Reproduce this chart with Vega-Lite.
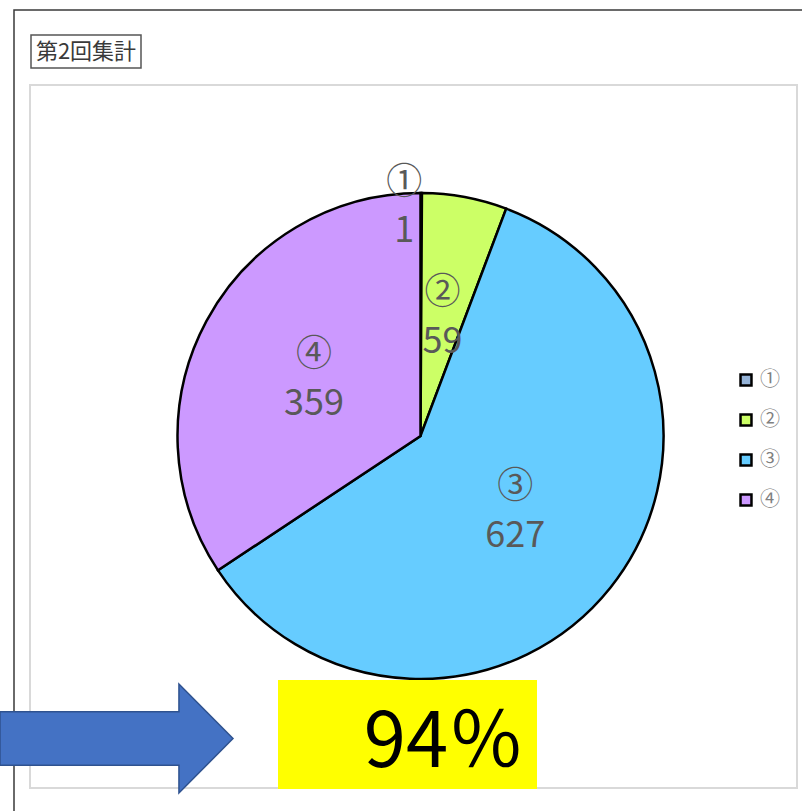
{
  "$schema": "https://vega.github.io/schema/vega-lite/v6.json",
  "width": 802,
  "height": 811,
  "autosize": "none",
  "padding": 0,
  "background": "white",
  "config": {"view": {"stroke": null}},
  "data": {"values": [
    {"cat": "①", "value": 1, "label": "①\n1"},
    {"cat": "②", "value": 59, "label": "②\n59"},
    {"cat": "③", "value": 627, "label": "③\n627"},
    {"cat": "④", "value": 359, "label": "④\n359"}
  ]},
  "layer": [
    {
      "data": {"values": [{}]},
      "mark": {"type": "rect", "x": 14, "x2": 830, "y": 10, "y2": 840, "filled": false, "stroke": "#3a3a3a", "strokeWidth": 1.5},
      "encoding": {}
    },
    {
      "data": {"values": [{}]},
      "mark": {"type": "rect", "x": 30, "x2": 797, "y": 85, "y2": 788, "filled": false, "stroke": "#d9d9d9", "strokeWidth": 2},
      "encoding": {}
    },
    {
      "data": {"values": [{}]},
      "mark": {"type": "rect", "x": 31, "x2": 141, "y": 35, "y2": 68, "fill": "white", "stroke": "#555555", "strokeWidth": 1.5},
      "encoding": {}
    },
    {
      "data": {"values": [{"t": "第2回集計"}]},
      "mark": {"type": "text", "x": 86, "y": 52, "align": "center", "baseline": "middle", "font": "Noto Sans CJK JP", "fontSize": 22, "fill": "#3a3a3a"},
      "encoding": {"text": {"field": "t"}}
    },
    {
      "mark": {"type": "arc", "x": 420.5, "y": 436, "outerRadius": 243, "stroke": "black", "strokeWidth": 2.5},
      "encoding": {
        "theta": {"field": "value", "type": "quantitative", "stack": true},
        "color": {
          "field": "cat", "type": "nominal",
          "scale": {"domain": ["①", "②", "③", "④"], "range": ["#95b3d7", "#ccff66", "#66ccff", "#cc99ff"]},
          "legend": {
            "orient": "none", "legendX": 736, "legendY": 370, "title": null,
            "symbolType": "square", "symbolSize": 120, "symbolStrokeColor": "black", "symbolStrokeWidth": 2.5,
            "labelFont": "Noto Sans CJK JP", "labelFontSize": 20, "labelColor": "#808080",
            "rowPadding": 18, "padding": 0, "labelOffset": 4
          }
        }
      }
    },
    {
      "mark": {"type": "text", "x": 420.5, "y": 436, "radius": 121, "dy": -24, "align": "center", "baseline": "middle", "font": "Noto Sans CJK JP", "fontSize": 36, "lineHeight": 49, "lineBreak": "\n", "fill": "#595959"},
      "encoding": {
        "theta": {"field": "value", "type": "quantitative", "stack": true},
        "detail": {"field": "cat"},
        "text": {"condition": {"test": "datum.cat !== '①'", "field": "label"}, "value": ""}
      }
    },
    {
      "mark": {"type": "text", "x": 420.5, "y": 436, "radius": 231, "dx": -17, "dy": -22, "align": "center", "baseline": "middle", "font": "Noto Sans CJK JP", "fontSize": 36, "lineHeight": 48, "lineBreak": "\n", "fill": "#595959"},
      "encoding": {
        "theta": {"field": "value", "type": "quantitative", "stack": true},
        "detail": {"field": "cat"},
        "text": {"condition": {"test": "datum.cat === '①'", "field": "label"}, "value": ""}
      }
    },
    {
      "data": {"values": [{}]},
      "mark": {"type": "rect", "x": 278, "x2": 537, "y": 680, "y2": 789, "fill": "#ffff00"},
      "encoding": {}
    },
    {
      "data": {"values": [{"t": "94％"}]},
      "mark": {"type": "text", "x": 444, "y": 767, "align": "center", "baseline": "alphabetic", "font": "Noto Sans CJK JP", "fontSize": 76, "fill": "black"},
      "encoding": {"text": {"field": "t"}}
    },
    {
      "data": {"values": [{}]},
      "mark": {"type": "point", "x": 116.5, "y": 738.5, "size": 54289, "filled": true, "opacity": 1, "fill": "#4472c4", "stroke": "#2f528f", "strokeWidth": 1.5,
        "shape": "M-1,-0.23L0.536,-0.23L0.536,-0.468L1,0L0.536,0.468L0.536,0.23L-1,0.23Z"},
      "encoding": {}
    }
  ]
}
